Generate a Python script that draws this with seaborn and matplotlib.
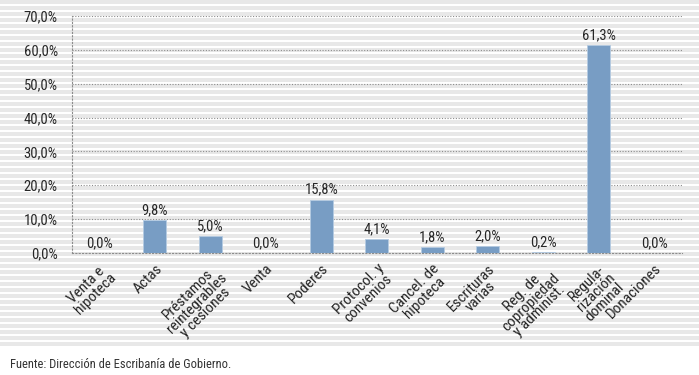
import matplotlib
matplotlib.use("Agg")
import matplotlib.pyplot as plt
import seaborn as sns
import pandas as pd
import numpy as np
from matplotlib.ticker import FuncFormatter, FixedLocator

# --- datos ---
categorias = ["Venta e\nhipoteca", "Actas", "Préstamos\nreintegrables\ny cesiones",
              "Venta", "Poderes", "Protocol. y\nconvenios", "Cancel. de\nhipoteca",
              "Escrituras\nvarias", "Reg. de\ncopropiedad\ny administ.",
              "Regula-\nrización\ndominal", "Donaciones"]
porcentajes = [0.0, 9.8, 5.0, 0.0, 15.8, 4.1, 1.8, 2.0, 0.2, 61.3, 0.0]
y_ticks = [0, 10, 20, 30, 40, 50, 60, 70]
fuente = "Fuente: Dirección de Escribanía de Gobierno."

df = pd.DataFrame({"cat": categorias, "pct": porcentajes})

sns.set_style("white")
plt.rcParams['font.family'] = ['Roboto Condensed', 'Liberation Sans Narrow',
                               'Liberation Sans', 'DejaVu Sans']

W, H = 699, 375
fig = plt.figure(figsize=(W / 100, H / 100), dpi=100)

# fondo rayado
bg = fig.add_axes([0, 0, 1, 1], zorder=-1)
bg.set_xlim(0, W)
bg.set_ylim(H, 0)
bg.axis("off")
for y in range(0, 346, 6):
    bg.axhspan(y, y + 4, color="#e8e8e8", lw=0)

ax = fig.add_axes([71.6 / W, 1 - 253 / H, (682 - 71.6) / W, (253 - 16) / H])
ax.set_facecolor("none")

sns.barplot(data=df, x="cat", y="pct", color="#789dc4", saturation=1, width=0.41,
            edgecolor="#b5cbe2", linewidth=0.6, ax=ax, zorder=3)

ax.set_ylim(0, 70)
ax.set_xlim(-0.5, len(categorias) - 0.5)
ax.yaxis.set_major_locator(FixedLocator(y_ticks))
ax.yaxis.set_major_formatter(FuncFormatter(lambda v, p: f"{v:.1f}%".replace(".", ",")))
ax.grid(axis="y", linestyle=(0, (1, 1.5)), color="#8c8c8c", linewidth=0.8, zorder=1)

for s in ["top", "right"]:
    ax.spines[s].set_visible(False)
for s in ["left", "bottom"]:
    ax.spines[s].set_linestyle((0, (1, 2)))
    ax.spines[s].set_color("#8c8c8c")
    ax.spines[s].set_linewidth(0.8)

ax.tick_params(axis="y", length=4, color="#8c8c8c", width=0.8, labelsize=10.5, pad=6)
ax.tick_params(axis="x", length=0, labelsize=11, pad=6)
ax.set_xticks(np.arange(len(categorias) + 1) - 0.5, minor=True)
ax.tick_params(axis="x", which="minor", length=3, color="#8c8c8c", width=0.8)

for lbl in ax.get_xticklabels():
    lbl.set_rotation(45)
    lbl.set_ha("right")
    lbl.set_va("top")
    lbl.set_rotation_mode("anchor")
    lbl.set_multialignment("center")
    lbl.set_linespacing(0.9)

ax.bar_label(ax.containers[0], labels=[f"{v:.1f}%".replace(".", ",") for v in porcentajes],
             padding=2, fontsize=10.5)

ax.set_xlabel("")
ax.set_ylabel("")

fig.text(10 / W, 1 - 365 / H, fuente, fontsize=9, color="#333333", va="center")

fig.savefig("out.png", dpi=100)
